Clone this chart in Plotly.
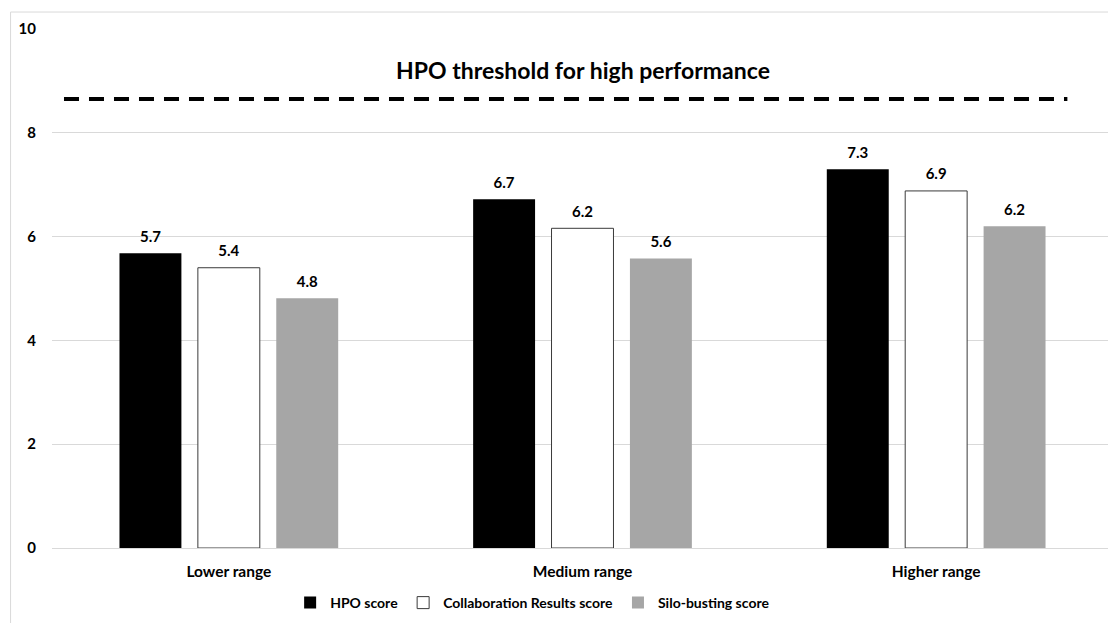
import plotly.graph_objects as go

categories = ["Lower range", "Medium range", "Higher range"]
hpo_score = [5.68, 6.72, 7.30]
collab_score = [5.40, 6.16, 6.88]
silo_score = [4.81, 5.58, 6.20]
series_names = ["HPO score", "Collaboration Results score", "Silo-busting score"]
threshold_value = 8.65
threshold_label = "HPO threshold for high performance"
y_ticks = [0, 2, 4, 6, 8, 10]

FONT = "Lato"
fig = go.Figure()
styles = [
    dict(color="#000000", line=dict(color="#000000", width=0)),
    dict(color="#ffffff", line=dict(color="#3a3a3a", width=1)),
    dict(color="#a6a6a6", line=dict(color="#a6a6a6", width=0)),
]
all_series = [hpo_score, collab_score, silo_score]
for i, (name, vals, st) in enumerate(zip(series_names, all_series, styles)):
    fig.add_trace(go.Bar(
        x=categories, y=vals, name=name, marker=st, offsetgroup=str(i),
        hoverinfo="x+y+name",
    ))
# value labels above bars
for i, vals in enumerate(all_series):
    fig.add_trace(go.Scatter(
        x=categories, y=vals, mode="markers+text", offsetgroup=str(i),
        texttemplate="%{y:.1f}", textposition="top center",
        marker=dict(size=11, opacity=0), showlegend=False, hoverinfo="skip",
        textfont=dict(family=FONT, size=15, color="#000000", weight="bold"),
        cliponaxis=False,
    ))

fig.add_shape(type="line", xref="paper", yref="y", x0=0.0113, x1=0.957,
              y0=threshold_value, y1=threshold_value,
              line=dict(color="#000000", width=4, dash="15px,10px"))
fig.add_annotation(x=categories[1], y=threshold_value, xref="x", yref="y",
                   text=threshold_label, showarrow=False, yanchor="bottom", yshift=13,
                   font=dict(family=FONT, size=23, color="#000000", weight="bold"))
# outer chart border
fig.add_shape(type="rect", xref="paper", yref="paper", x0=-41.5 / 1063, x1=1.05,
              y0=-0.3, y1=1.0327, line=dict(color="#d9d9d9", width=1), layer="below")

fig.update_layout(
    width=1116, height=623,
    margin=dict(l=42, r=11, t=20, b=83),
    paper_bgcolor="#ffffff", plot_bgcolor="#ffffff",
    barmode="group", bargap=0.335, bargroupgap=0.21,
    scattermode="group", scattergap=0.335,
    font=dict(family=FONT, size=15, color="#000000"),
    showlegend=True,
    legend=dict(orientation="h", x=0.453, xanchor="center", y=-0.106, yanchor="middle",
                font=dict(family=FONT, size=14, color="#000000", weight="bold"),
                itemwidth=30, traceorder="normal"),
    xaxis=dict(showgrid=False, showline=False, ticks="", ticklabelstandoff=12,
               tickfont=dict(family=FONT, size=15.5, color="#000000", weight="bold")),
    yaxis=dict(range=[0, 10], tickvals=y_ticks, showgrid=True, gridcolor="#d9d9d9",
               gridwidth=1, zeroline=True, zerolinecolor="#d9d9d9", zerolinewidth=1,
               showline=False, ticks="", ticklabelstandoff=15,
               tickfont=dict(family=FONT, size=15, color="#000000", weight="bold")),
)

fig.write_html("out.html")
